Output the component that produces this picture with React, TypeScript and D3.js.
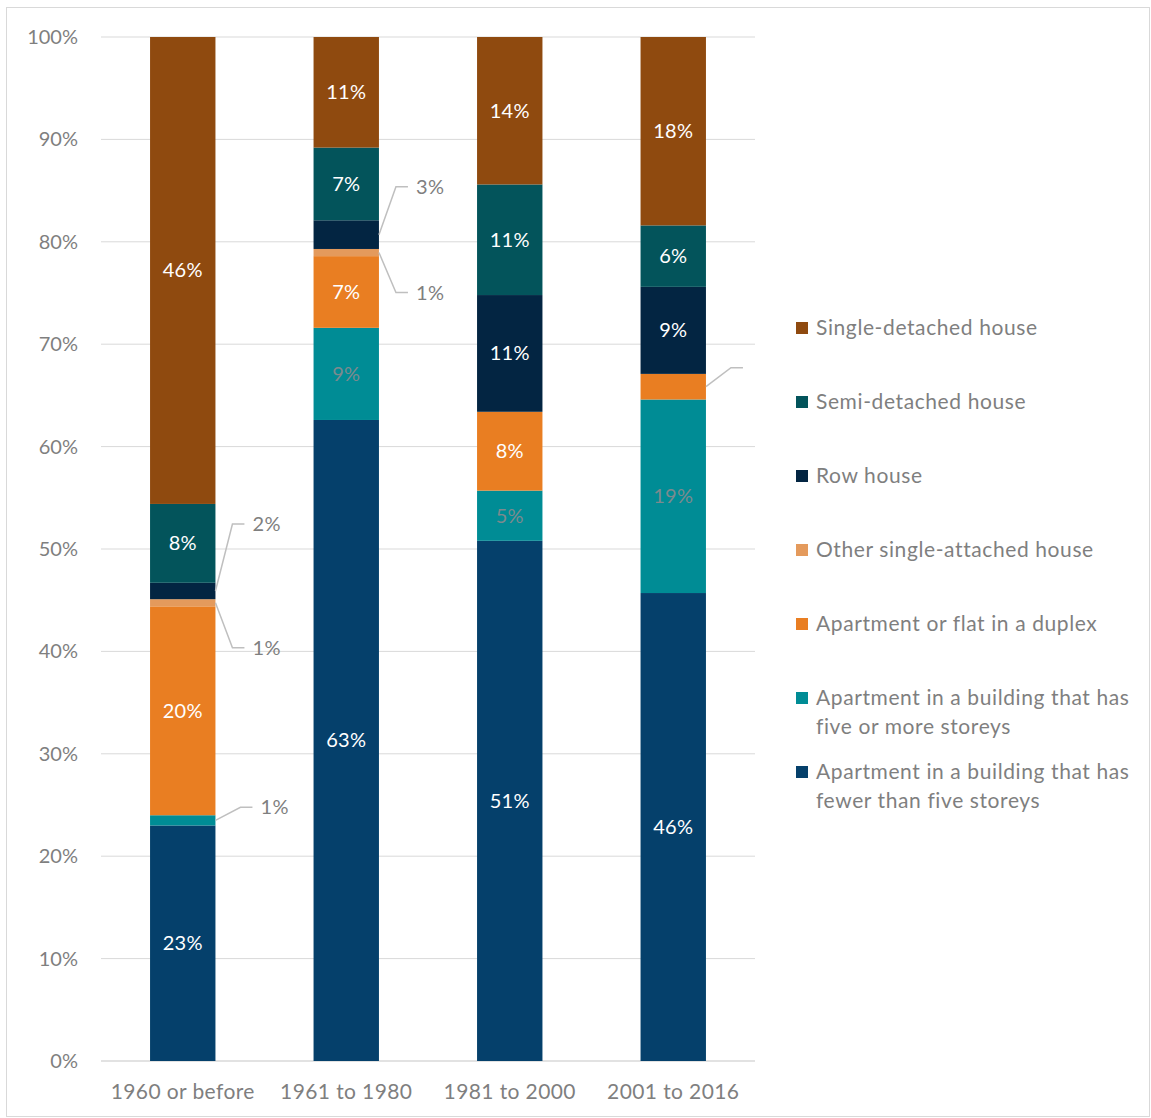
import * as d3 from "d3";

const periods = ["1960 or before", "1961 to 1980", "1981 to 2000", "2001 to 2016"];

// stacked bottom -> top
const seriesNames = [
  "Apartment in a building that has fewer than five storeys",
  "Apartment in a building that has five or more storeys",
  "Apartment or flat in a duplex",
  "Other single-attached house",
  "Row house",
  "Semi-detached house",
  "Single-detached house",
];
const seriesColors = ["#05406B", "#008C95", "#E97E22", "#E49A5C", "#032542", "#03545B", "#8F4A0F"];
const labelColors = ["#fff", "#7C8A8E", "#fff", "#fff", "#fff", "#fff", "#fff"];

const aptUnder5 = [23.0, 62.6, 50.8, 45.7];
const apt5plus = [1.0, 9.0, 4.9, 18.9];
const duplex = [20.4, 7.0, 7.7, 2.5];
const otherAttached = [0.7, 0.7, 0, 0];
const rowHouse = [1.6, 2.8, 11.4, 8.5];
const semiDetached = [7.7, 7.1, 10.8, 6.0];
const singleDetached = [45.6, 10.8, 14.4, 18.4];

const values = [aptUnder5, apt5plus, duplex, otherAttached, rowHouse, semiDetached, singleDetached];

const yTicks = d3.range(0, 101, 10);

// segments labelled outside the bar: [bar, series, label y offset, show text]
const callouts: [number, number, number, boolean][] = [
  [0, 4, -67, true],
  [0, 3, 45, true],
  [0, 1, -13, true],
  [1, 4, -48, true],
  [1, 3, 40, true],
  [3, 2, -19, false],
];

// legend order top -> bottom, with wrapped lines
const legendItems: [number, string[]][] = [
  [6, ["Single-detached house"]],
  [5, ["Semi-detached house"]],
  [4, ["Row house"]],
  [3, ["Other single-attached house"]],
  [2, ["Apartment or flat in a duplex"]],
  [1, ["Apartment in a building that has", "five or more storeys"]],
  [0, ["Apartment in a building that has", "fewer than five storeys"]],
];

const W = 1151;
const H = 1118;
const font = "Lato, 'Open Sans', sans-serif";
const gray = "#7F7F7F";

export default function App() {
  const margin = { top: 37, left: 101, right: 396, bottom: 57 };
  const x = d3
    .scaleBand<string>()
    .domain(periods)
    .range([margin.left, W - margin.right])
    .paddingInner(0.6)
    .paddingOuter(0.3);
  const y = d3.scaleLinear().domain([0, 100]).range([H - margin.bottom, margin.top]);

  const rows = periods.map((p, i) => {
    const r: any = { period: p };
    seriesNames.forEach((s, k) => (r[s] = values[k][i]));
    return r;
  });
  const stacked = d3.stack<any>().keys(seriesNames)(rows);

  const isCallout = (b: number, s: number) => callouts.some((c) => c[0] === b && c[1] === s);

  return (
    <svg
      width={W}
      height={H}
      style={{ position: "absolute", left: 0, top: 0, background: "#fff" }}
      fontFamily={font}
    >
      <rect x={6.5} y={7.5} width={W - 8} height={H - 9} fill="none" stroke="#D9D9D9" />

      {/* grid */}
      {yTicks.map((t) => (
        <g key={t}>
          <line
            x1={margin.left}
            x2={W - margin.right}
            y1={y(t)}
            y2={y(t)}
            stroke="#D9D9D9"
            strokeWidth={t === 0 ? 1.5 : 1}
          />
          <text x={78} y={y(t)} dy="0.35em" textAnchor="end" fontSize={20} fill={gray}>
            {t}%
          </text>
        </g>
      ))}

      {/* bars */}
      {stacked.map((layer, k) => (
        <g key={layer.key} fill={seriesColors[k]}>
          {layer.map((d, i) => (
            <rect
              key={i}
              x={x(periods[i])}
              width={x.bandwidth()}
              y={y(d[1])}
              height={Math.max(0, y(d[0]) - y(d[1]))}
            />
          ))}
        </g>
      ))}

      {/* inside labels */}
      {stacked.map((layer, k) =>
        layer.map((d, i) => {
          const v = d[1] - d[0];
          if (v <= 0 || isCallout(i, k)) return null;
          return (
            <text
              key={`${k}-${i}`}
              x={x(periods[i])! + x.bandwidth() / 2}
              y={y((d[0] + d[1]) / 2)}
              dy="0.35em"
              textAnchor="middle"
              fontSize={20}
              letterSpacing={0.3}
              fill={labelColors[k]}
            >
              {Math.round(v)}%
            </text>
          );
        })
      )}

      {/* callouts */}
      {callouts.map(([b, s, dy, show], idx) => {
        const d = stacked[s][b];
        const x0 = x(periods[b])! + x.bandwidth();
        const y0 = y((d[0] + d[1]) / 2);
        const y1 = y0 + dy;
        const x1 = x0 + (dy < -30 || dy > 30 ? 17 : 25);
        const x2 = x1 + 12;
        return (
          <g key={idx}>
            <polyline
              points={`${x0},${y0} ${x1},${y1} ${x2},${y1}`}
              fill="none"
              stroke="#BFBFBF"
              strokeWidth={1.5}
            />
            {show && (
              <text x={x2 + 8} y={y1} dy="0.35em" fontSize={20} letterSpacing={0.4} fill={gray}>
                {Math.round(d[1] - d[0])}%
              </text>
            )}
          </g>
        );
      })}

      {/* x labels */}
      {periods.map((p) => (
        <text
          key={p}
          x={x(p)! + x.bandwidth() / 2}
          y={1092}
          dy="0.35em"
          textAnchor="middle"
          fontSize={21}
          letterSpacing={0.4}
          fill={gray}
        >
          {p}
        </text>
      ))}

      {/* legend */}
      {legendItems.map(([k, lines], i) => {
        const ly = 328 + i * 74;
        return (
          <g key={k}>
            <rect x={796} y={ly - 6} width={12} height={12} fill={seriesColors[k]} />
            {lines.map((ln, j) => (
              <text
                key={j}
                x={816}
                y={ly + j * 29}
                dy="0.35em"
                fontSize={21}
                letterSpacing={0.6}
                fill={gray}
              >
                {ln}
              </text>
            ))}
          </g>
        );
      })}
    </svg>
  );
}
